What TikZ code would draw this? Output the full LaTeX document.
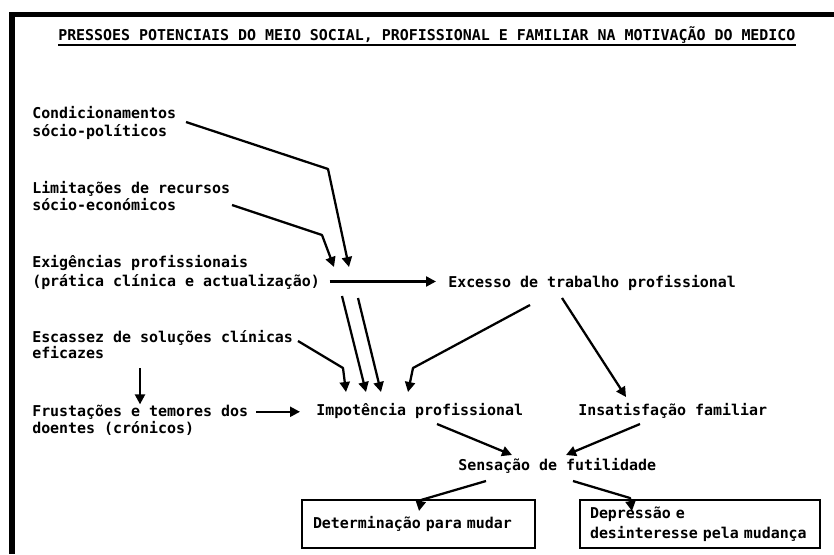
\documentclass[tikz,border=0pt]{standalone}
\usepackage{fontspec}
\setmonofont{DejaVu Sans Mono}
\usetikzlibrary{arrows.meta,calc}
\begin{document}
\begin{tikzpicture}[x=0.75pt,y=-0.75pt,
  lbl/.style={anchor=base west, inner sep=0pt, font=\ttfamily\bfseries\fontsize{11.2}{14}\selectfont},
  link/.style={line width=1.7pt, line join=round, -{Triangle[length=7.5pt,width=7.5pt]}},
  boxed/.style={draw, line width=1.5pt, inner ysep=0pt, align=left,
    font=\ttfamily\bfseries\fontsize{11.2}{15}\selectfont}]
\useasboundingbox (0,0) rectangle (834,554);
% heavy frame along the top and left edges
\fill (9,12) rectangle (834,17);
\fill (9,12) rectangle (15,554);

% title, underlined
\node[lbl] (title) at (58,40) {PRESSOES POTENCIAIS DO MEIO SOCIAL, PROFISSIONAL E FAMILIAR NA MOTIVAÇÃO DO MEDICO};
\draw[line width=2.2pt] ($(title.base west)+(0,5)$) -- ($(title.base east)+(0,5)$);

% left column of pressures
\node[lbl] (cond1) at (32,118) {Condicionamentos};
\node[lbl] (cond2) at (32,136) {sócio-políticos};
\node[lbl] (lim1) at (32,193) {Limitações de recursos};
\node[lbl] (lim2) at (32,210) {sócio-económicos};
\node[lbl] (exi1) at (32,267) {Exigências profissionais};
\node[lbl] (exi2) at (32,286) {(prática clínica e actualização)};
\node[lbl] (esc1) at (32,342) {Escassez de soluções clínicas};
\node[lbl] (esc2) at (32,358) {eficazes};
\node[lbl] (fru1) at (32,416) {Frustações e temores dos};
\node[lbl] (fru2) at (32,433) {doentes (crónicos)};

% consequences
\node[lbl] (exc) at (448,287) {Excesso de trabalho profissional};
\node[lbl] (imp) at (316,415) {Impotência profissional};
\node[lbl] (ins) at (578,415) {Insatisfação familiar};
\node[lbl] (sen) at (458,470) {Sensação de futilidade};

% outcomes
\node[boxed, minimum width=174.75pt, minimum height=36pt, text width=158.25pt] (det) at (418.5,524) {Determinação para mudar};
\node[boxed, minimum width=180pt, minimum height=36pt, text width=165pt] (dep) at (700,524) {Depressão e\\desinteresse pela mudança};

% connector points
\coordinate (condTail) at (186,122);
\coordinate (condBend) at (328,169);
\coordinate (condTip) at (349,267);
\coordinate (limTail) at (232,205);
\coordinate (limBend) at (322,235);
\coordinate (limTip) at (334,267);
\coordinate (parATail) at (342,296);
\coordinate (parATip) at (366,392);
\coordinate (parBTail) at (358,298);
\coordinate (parBTip) at (381,392);
\coordinate (escTail) at (298,341);
\coordinate (escBend) at (343,368);
\coordinate (escTip) at (346,392);
\coordinate (escDown) at (140,368);
\coordinate (excTailL) at (530,305);
\coordinate (excBend) at (413,368);
\coordinate (excTip) at (408,392);
\coordinate (excTailR) at (562,298);
\coordinate (insTip) at (626,397);
\coordinate (impTail) at (437,424);
\coordinate (senTipL) at (512,455);
\coordinate (insTail) at (640,424);
\coordinate (senTipR) at (566,455);
\coordinate (senTailL) at (486,481);
\coordinate (detBend) at (421,500);
\coordinate (detTip) at (419,511);
\coordinate (senTailR) at (573,481);
\coordinate (depBend) at (630,498);
\coordinate (depTip) at (632,511);

% connectors
\draw[link] (condTail) -- (condBend) -- (condTip);
\draw[link] (limTail) -- (limBend) -- (limTip);
\draw[link, shorten <=7pt, shorten >=9pt] (exi2.east) -- (exi2.east -| exc.west);
\draw[link] (parATail) -- (parATip);
\draw[link] (parBTail) -- (parBTip);
\draw[link] (escTail) -- (escBend) -- (escTip);
\draw[link] (escDown) -- (escDown |- fru1.north);
\draw[link] (excTailL) -- (excBend) -- (excTip);
\draw[link] (excTailR) -- (insTip);
\draw[link, shorten <=6pt, shorten >=12pt] (fru1.east) -- (fru1.east -| imp.west);
\draw[link] (impTail) -- (senTipL);
\draw[link] (insTail) -- (senTipR);
\draw[link] (senTailL) -- (detBend) -- (detTip);
\draw[link] (senTailR) -- (depBend) -- (depTip);
\end{tikzpicture}
\end{document}
